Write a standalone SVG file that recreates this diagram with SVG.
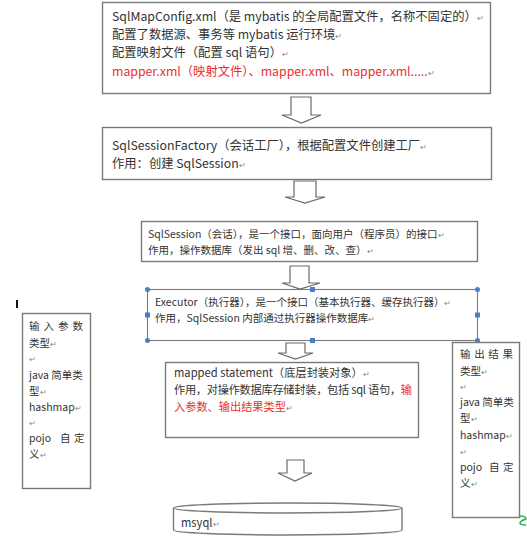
<svg xmlns="http://www.w3.org/2000/svg" width="527" height="540" viewBox="0 0 527 540">
<defs>
<style>
text{font-family:"Noto Sans CJK SC","Noto Sans",sans-serif;fill:#333}
.t13{font-size:12.3px}
.t12{font-size:12.3px}
.t11{font-size:11.2px}
.t10{font-size:10.5px}
.red{fill:#e8302e}
.pm{font-size:8px;fill:#888}
.box{fill:#fff;stroke:#7a7a7a;stroke-width:1.4}
.arrow{fill:#fff;stroke:#6a6a6a;stroke-width:1.2;stroke-linejoin:miter}
.hdl{fill:#4a7fc8}
</style>
</defs>
<rect width="527" height="540" fill="#fff"/>

<g id="connectors">
<path class="arrow" d="M291,97 H311 V115 H321 L301.5,123 L282,115 H291 Z"/>
<path class="arrow" d="M294,181 H316 V197 H325 L305,203 L285,197 H294 Z"/>
<path class="arrow" d="M290,266 H309 V283 H320 L300,289 L282,283 H290 Z"/>
<path class="arrow" d="M286,343 H305 V353 H313 L295.5,359 L278,353 H286 Z"/>
<path class="arrow" d="M287,460 H304 V473 H312 L295,481 L278,473 H287 Z"/>
</g>

<g id="config">
<rect class="box" x="102.5" y="2.5" width="388" height="91"/>
<text class="t13" x="112" y="21">SqlMapConfig.xml（是 mybatis 的全局配置文件，名称不固定的）<tspan class="pm">↵</tspan></text>
<text class="t13" x="112" y="39">配置了数据源、事务等 mybatis 运行环境<tspan class="pm">↵</tspan></text>
<text class="t13" x="112" y="57">配置映射文件（配置 sql 语句）<tspan class="pm">↵</tspan></text>
<text class="t13 red" x="112" y="76">mapper.xml（映射文件）、mapper.xml、mapper.xml.....<tspan class="pm">↵</tspan></text>
</g>

<g id="factory">
<rect class="box" x="102.5" y="127.5" width="389" height="52"/>
<text class="t12" x="112" y="150">SqlSessionFactory（会话工厂），根据配置文件创建工厂<tspan class="pm">↵</tspan></text>
<text class="t12" x="112" y="168">作用：创建 SqlSession<tspan class="pm">↵</tspan></text>
</g>

<g id="session">
<rect class="box" x="141.5" y="221.5" width="336" height="40"/>
<text class="t10" x="148" y="238">SqlSession（会话），是一个接口，面向用户（程序员）的接口<tspan class="pm">↵</tspan></text>
<text class="t10" x="148" y="254">作用，操作数据库（发出 sql 增、删、改、查）<tspan class="pm">↵</tspan></text>
</g>

<g id="executor">
<rect class="box" x="147.5" y="289.5" width="330" height="51" style="stroke-width:1.1"/>
<text class="t10" x="155" y="306">Executor（执行器），是一个接口（基本执行器、缓存执行器）<tspan class="pm">↵</tspan></text>
<text class="t10" x="155" y="322">作用，SqlSession 内部通过执行器操作数据库<tspan class="pm">↵</tspan></text>
<circle class="hdl" cx="147.5" cy="289.5" r="2.5"/>
<circle class="hdl" cx="477.5" cy="289.5" r="2.5"/>
<circle class="hdl" cx="147.5" cy="340.5" r="2.5"/>
<circle class="hdl" cx="477.5" cy="340.5" r="2.5"/>
<rect class="hdl" x="310" y="287" width="5" height="5"/>
<rect class="hdl" x="310" y="338" width="5" height="5"/>
<rect class="hdl" x="145" y="312.5" width="5" height="5"/>
<rect class="hdl" x="475" y="312.5" width="5" height="5"/>
</g>

<g id="mapped">
<rect class="box" x="165.5" y="362.5" width="253" height="75"/>
<text class="t11" x="174" y="377">mapped statement（底层封装对象）<tspan class="pm">↵</tspan></text>
<text class="t11" x="174" y="394" textLength="238" lengthAdjust="spacing">作用，对操作数据库存储封装，包括 sql 语句，<tspan class="red">输</tspan></text>
<text class="t11 red" x="174" y="411">入参数、输出结果类型<tspan class="pm">↵</tspan></text>
</g>

<g id="mysql">
<path class="box" d="M173.5,508 V530 A114.25,5 0 0 0 402,530 V508"/>
<ellipse class="box" cx="287.75" cy="508" rx="114.25" ry="5"/>
<text class="t11" x="181" y="527">msyql<tspan class="pm">↵</tspan></text>
</g>

<g id="input">
<rect class="box" x="22.5" y="313.5" width="68" height="175"/>
<text class="t10" x="29" y="330" textLength="54" lengthAdjust="spacing">输入参数</text>
<text class="t10" x="29" y="347">类型<tspan class="pm">↵</tspan></text>
<text class="pm" x="29" y="362">↵</text>
<text class="t10" x="29" y="379">java 简单类</text>
<text class="t10" x="29" y="395">型<tspan class="pm">↵</tspan></text>
<text class="t10" x="29" y="411">hashmap<tspan class="pm">↵</tspan></text>
<text class="pm" x="29" y="426">↵</text>
<text class="t10" x="29" y="442">pojo<tspan x="60">自</tspan><tspan x="74">定</tspan></text>
<text class="t10" x="29" y="458">义<tspan class="pm">↵</tspan></text>
</g>

<g id="output">
<rect class="box" x="452.5" y="342.5" width="67" height="175"/>
<text class="t10" x="460" y="358" textLength="53" lengthAdjust="spacing">输出结果</text>
<text class="t10" x="460" y="375">类型<tspan class="pm">↵</tspan></text>
<text class="pm" x="460" y="390">↵</text>
<text class="t10" x="460" y="406">java 简单类</text>
<text class="t10" x="460" y="422">型<tspan class="pm">↵</tspan></text>
<text class="t10" x="460" y="439">hashmap<tspan class="pm">↵</tspan></text>
<text class="pm" x="460" y="455">↵</text>
<text class="t10" x="460" y="471">pojo<tspan x="489">自</tspan><tspan x="503">定</tspan></text>
<text class="t10" x="460" y="487">义<tspan class="pm">↵</tspan></text>
</g>

<rect x="16" y="300" width="2" height="8" fill="#111"/>
<path d="M520,516 q6,0 6,3 q-6,2 -6,4 q0,2 6,2" fill="none" stroke="#2db34a" stroke-width="1.6"/>
</svg>
